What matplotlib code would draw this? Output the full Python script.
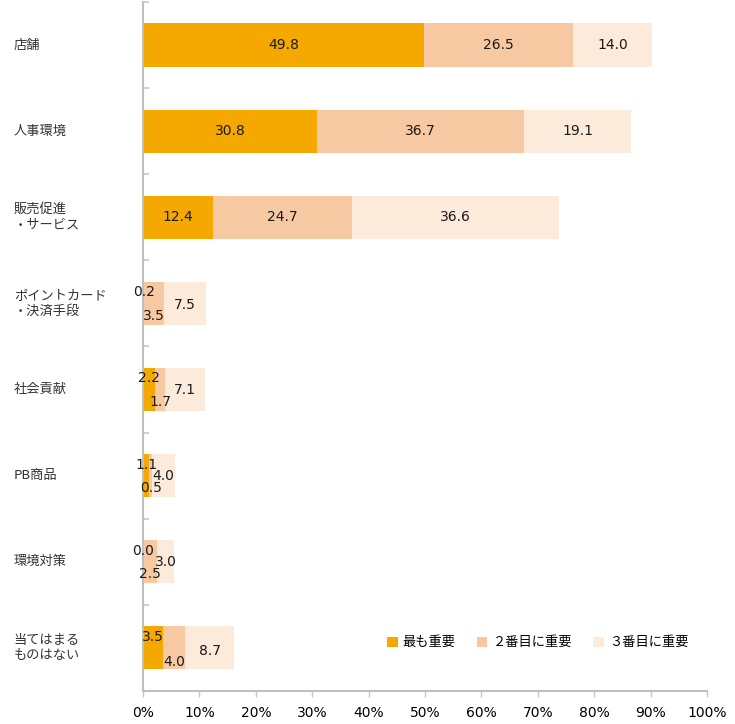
import numpy as np
import matplotlib.pyplot as plt
from matplotlib.patches import Patch

plt.rcParams['font.family'] = ['DejaVu Sans', 'Noto Sans CJK JP']

# data
categories = ['店舗', '人事環境', '販売促進\n・サービス', 'ポイントカード\n・決済手段',
              '社会貢献', 'PB商品', '環境対策', '当てはまる\nものはない']
most_important = [49.8, 30.8, 12.4, 0.2, 2.2, 1.1, 0.0, 3.5]
second = [26.5, 36.7, 24.7, 3.5, 1.7, 0.5, 2.5, 4.0]
third = [14.0, 19.1, 36.6, 7.5, 7.1, 4.0, 3.0, 8.7]
series_names = ['最も重要', '２番目に重要', '３番目に重要']
colors = ['#F5A800', '#F6C9A2', '#FCEADA']

# vertical label nudges (points) for crowded small bars
nudges = [
    [0, 0, 0, 8, 8, 8, 8, 8],
    [0, 0, 0, -9, -9, -9, -9, -10],
    [0, 0, 0, -1, 0, 0, 0, -2],
]

fig = plt.figure(figsize=(7.35, 7.24), dpi=100)
ax = fig.add_axes([0.1946, 0.0456, 0.7673, 0.9517])

y = np.arange(len(categories))
left = np.zeros(len(categories))
for vals, col, nd in zip([most_important, second, third], colors, nudges):
    vals = np.array(vals)
    ax.barh(y, vals, left=left, height=0.5, color=col, edgecolor='none')
    for i, v in enumerate(vals):
        ax.annotate(f'{v:.1f}', (left[i] + v / 2, y[i]), xytext=(0, nd[i]),
                    textcoords='offset points', ha='center', va='center',
                    fontsize=10, color='#1a1a1a', family='DejaVu Sans')
    left += vals

ax.set_ylim(len(categories) - 0.5, -0.5)
ax.set_xlim(0, 100)
ax.set_xticks(np.arange(0, 101, 10))
ax.set_xticklabels([f'{t}%' for t in range(0, 101, 10)], fontsize=10, family='DejaVu Sans')
ax.set_yticks(np.arange(-0.5, len(categories), 1), minor=False)
ax.set_yticklabels([])
ax.tick_params(axis='y', direction='in', length=4, color='#C8C8C8', width=1.2)
ax.tick_params(axis='x', direction='out', length=4, color='#C8C8C8', width=1, pad=7)

for i, c in enumerate(categories):
    ax.text(-0.229, i, c, transform=ax.get_yaxis_transform(), ha='left', va='center',
            fontsize=9.5, color='#333333', family=['Noto Sans CJK JP', 'DejaVu Sans'],
            linespacing=1.25)

for s in ['top', 'right']:
    ax.spines[s].set_visible(False)
for s in ['left', 'bottom']:
    ax.spines[s].set_color('#BFBFBF')
    ax.spines[s].set_linewidth(1.5)

handles = [Patch(facecolor=c, edgecolor='none') for c in colors]
leg = ax.legend(handles, series_names, ncol=3, loc='center', bbox_to_anchor=(0.70, 0.07),
                frameon=False, handlelength=0.8, handleheight=0.8, handletextpad=0.4,
                columnspacing=1.6, prop={'family': ['Noto Sans CJK JP'], 'size': 9.5})

fig.savefig('out.png', dpi=100)
